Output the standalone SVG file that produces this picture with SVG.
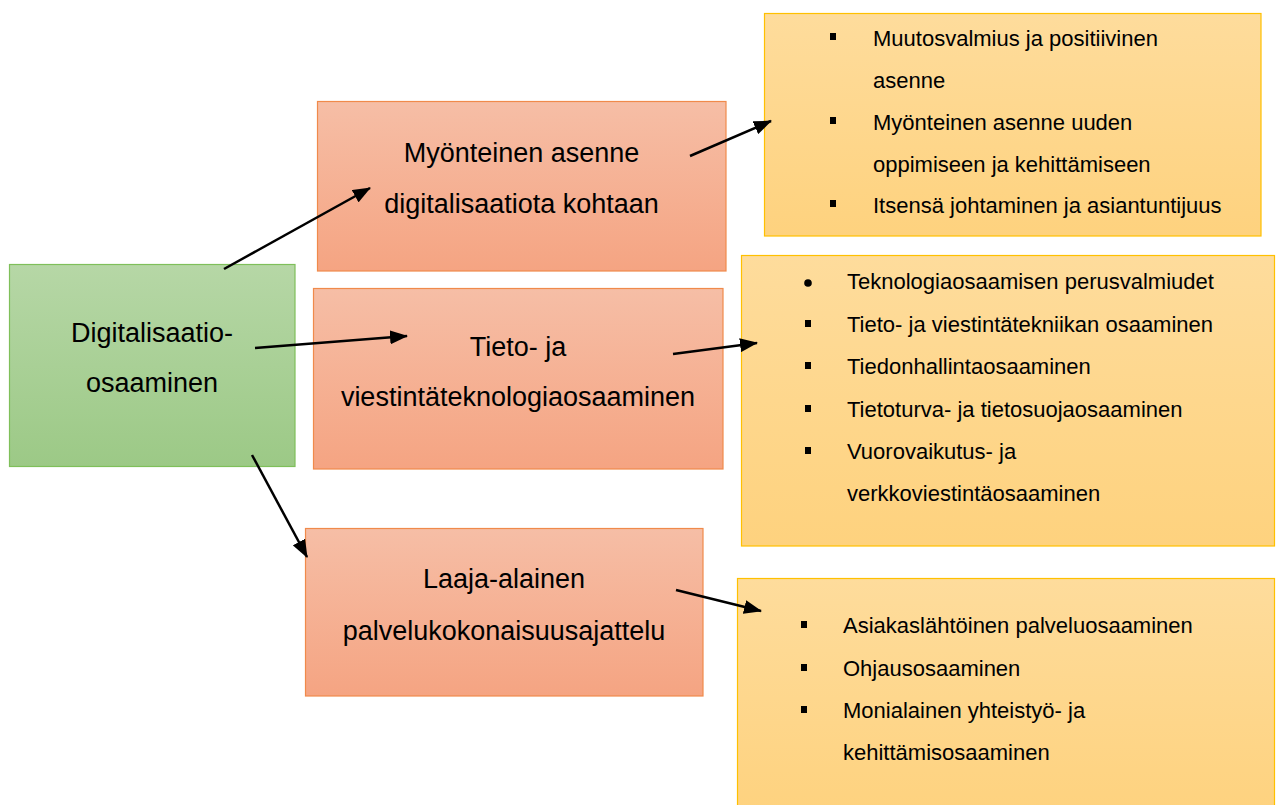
<svg xmlns="http://www.w3.org/2000/svg" width="1276" height="805" viewBox="0 0 1276 805">
  <style>
    .head { font-family: "Liberation Sans", Arial, sans-serif; font-size: 27px; fill: #000; text-anchor: middle; }
    .item { font-family: "Liberation Sans", Arial, sans-serif; font-size: 22px; fill: #000; }
    .green { fill: url(#gGreen); stroke: #7fbf5a; stroke-width: 1.2; }
    .orange { fill: url(#gOrange); stroke: #f08a4b; stroke-width: 1.2; }
    .yellow { fill: url(#gYellow); stroke: #ffc000; stroke-width: 1.2; }
    .conn { stroke: #000; stroke-width: 2.5; fill: none; marker-end: url(#arrow); }
    .sq { fill: #000; }
  </style>
  <defs>
    <linearGradient id="gGreen" x1="0" y1="0" x2="0" y2="1">
      <stop offset="0" stop-color="#b6d7a6"/>
      <stop offset="1" stop-color="#9cc986"/>
    </linearGradient>
    <linearGradient id="gOrange" x1="0" y1="0" x2="0" y2="1">
      <stop offset="0" stop-color="#f6bea6"/>
      <stop offset="1" stop-color="#f5a482"/>
    </linearGradient>
    <linearGradient id="gYellow" x1="0" y1="0" x2="0" y2="1">
      <stop offset="0" stop-color="#fedc9c"/>
      <stop offset="1" stop-color="#fed27e"/>
    </linearGradient>
    <marker id="arrow" markerUnits="userSpaceOnUse" viewBox="0 0 18 14" markerWidth="18" markerHeight="14" refX="17" refY="7" orient="auto">
      <path d="M0,0 L18,7 L0,14 z" fill="#000"/>
    </marker>
  </defs>

  <!-- root competence -->
  <g id="node-digitalisaatio">
    <rect class="green" x="9.5" y="264.5" width="285.5" height="202"/>
    <text class="head" x="152" y="342">Digitalisaatio-</text>
    <text class="head" x="152" y="392">osaaminen</text>
  </g>

  <!-- competence areas -->
  <g id="node-asenne">
    <rect class="orange" x="317.5" y="101.5" width="408.5" height="169.5"/>
    <text class="head" x="521.5" y="162">Myönteinen asenne</text>
    <text class="head" x="521.5" y="213">digitalisaatiota kohtaan</text>
  </g>
  <g id="node-tvt">
    <rect class="orange" x="313.5" y="288.5" width="409.5" height="180.5"/>
    <text class="head" x="518" y="356">Tieto- ja</text>
    <text class="head" x="518" y="406">viestintäteknologiaosaaminen</text>
  </g>
  <g id="node-palvelu">
    <rect class="orange" x="305.5" y="528.5" width="397.5" height="167.5"/>
    <text class="head" x="504" y="588">Laaja-alainen</text>
    <text class="head" x="504" y="640">palvelukokonaisuusajattelu</text>
  </g>

  <!-- detail lists -->
  <g id="node-list-asenne">
    <rect class="yellow" x="764.5" y="13.5" width="496.5" height="222.5"/>
    <rect class="sq" x="830" y="33" width="6" height="7"/>
    <text class="item" x="873" y="46">Muutosvalmius ja positiivinen</text>
    <text class="item" x="873" y="88">asenne</text>
    <rect class="sq" x="830" y="117" width="6" height="7"/>
    <text class="item" x="873" y="130">Myönteinen asenne uuden</text>
    <text class="item" x="873" y="172">oppimiseen ja kehittämiseen</text>
    <rect class="sq" x="830" y="200" width="6" height="7"/>
    <text class="item" x="873" y="213">Itsensä johtaminen ja asiantuntijuus</text>
  </g>
  <g id="node-list-tvt">
    <rect class="yellow" x="741.5" y="255.5" width="533" height="290.5"/>
    <circle class="sq" cx="808" cy="283" r="3.8"/>
    <text class="item" x="847" y="289">Teknologiaosaamisen perusvalmiudet</text>
    <rect class="sq" x="805" y="320" width="6" height="7"/>
    <text class="item" x="847" y="332">Tieto- ja viestintätekniikan osaaminen</text>
    <rect class="sq" x="805" y="362" width="6" height="7"/>
    <text class="item" x="847" y="374">Tiedonhallintaosaaminen</text>
    <rect class="sq" x="805" y="405" width="6" height="7"/>
    <text class="item" x="847" y="417">Tietoturva- ja tietosuojaosaaminen</text>
    <rect class="sq" x="805" y="447" width="6" height="7"/>
    <text class="item" x="847" y="459">Vuorovaikutus- ja</text>
    <text class="item" x="847" y="501">verkkoviestintäosaaminen</text>
  </g>
  <g id="node-list-palvelu">
    <rect class="yellow" x="737.5" y="578.5" width="537" height="240"/>
    <rect class="sq" x="801" y="621" width="6" height="7"/>
    <text class="item" x="843" y="633">Asiakaslähtöinen palveluosaaminen</text>
    <rect class="sq" x="801" y="664" width="6" height="7"/>
    <text class="item" x="843" y="676">Ohjausosaaminen</text>
    <rect class="sq" x="801" y="706" width="6" height="7"/>
    <text class="item" x="843" y="718">Monialainen yhteistyö- ja</text>
    <text class="item" x="843" y="760">kehittämisosaaminen</text>
  </g>

  <!-- connectors -->
  <g id="connectors">
    <line class="conn" x1="224" y1="269" x2="370" y2="188"/>
    <line class="conn" x1="255" y1="348" x2="407" y2="336"/>
    <line class="conn" x1="252" y1="455" x2="307" y2="557"/>
    <line class="conn" x1="690" y1="156" x2="771" y2="121"/>
    <line class="conn" x1="673" y1="354" x2="757" y2="343"/>
    <line class="conn" x1="676" y1="590" x2="761" y2="611"/>
  </g>
</svg>
